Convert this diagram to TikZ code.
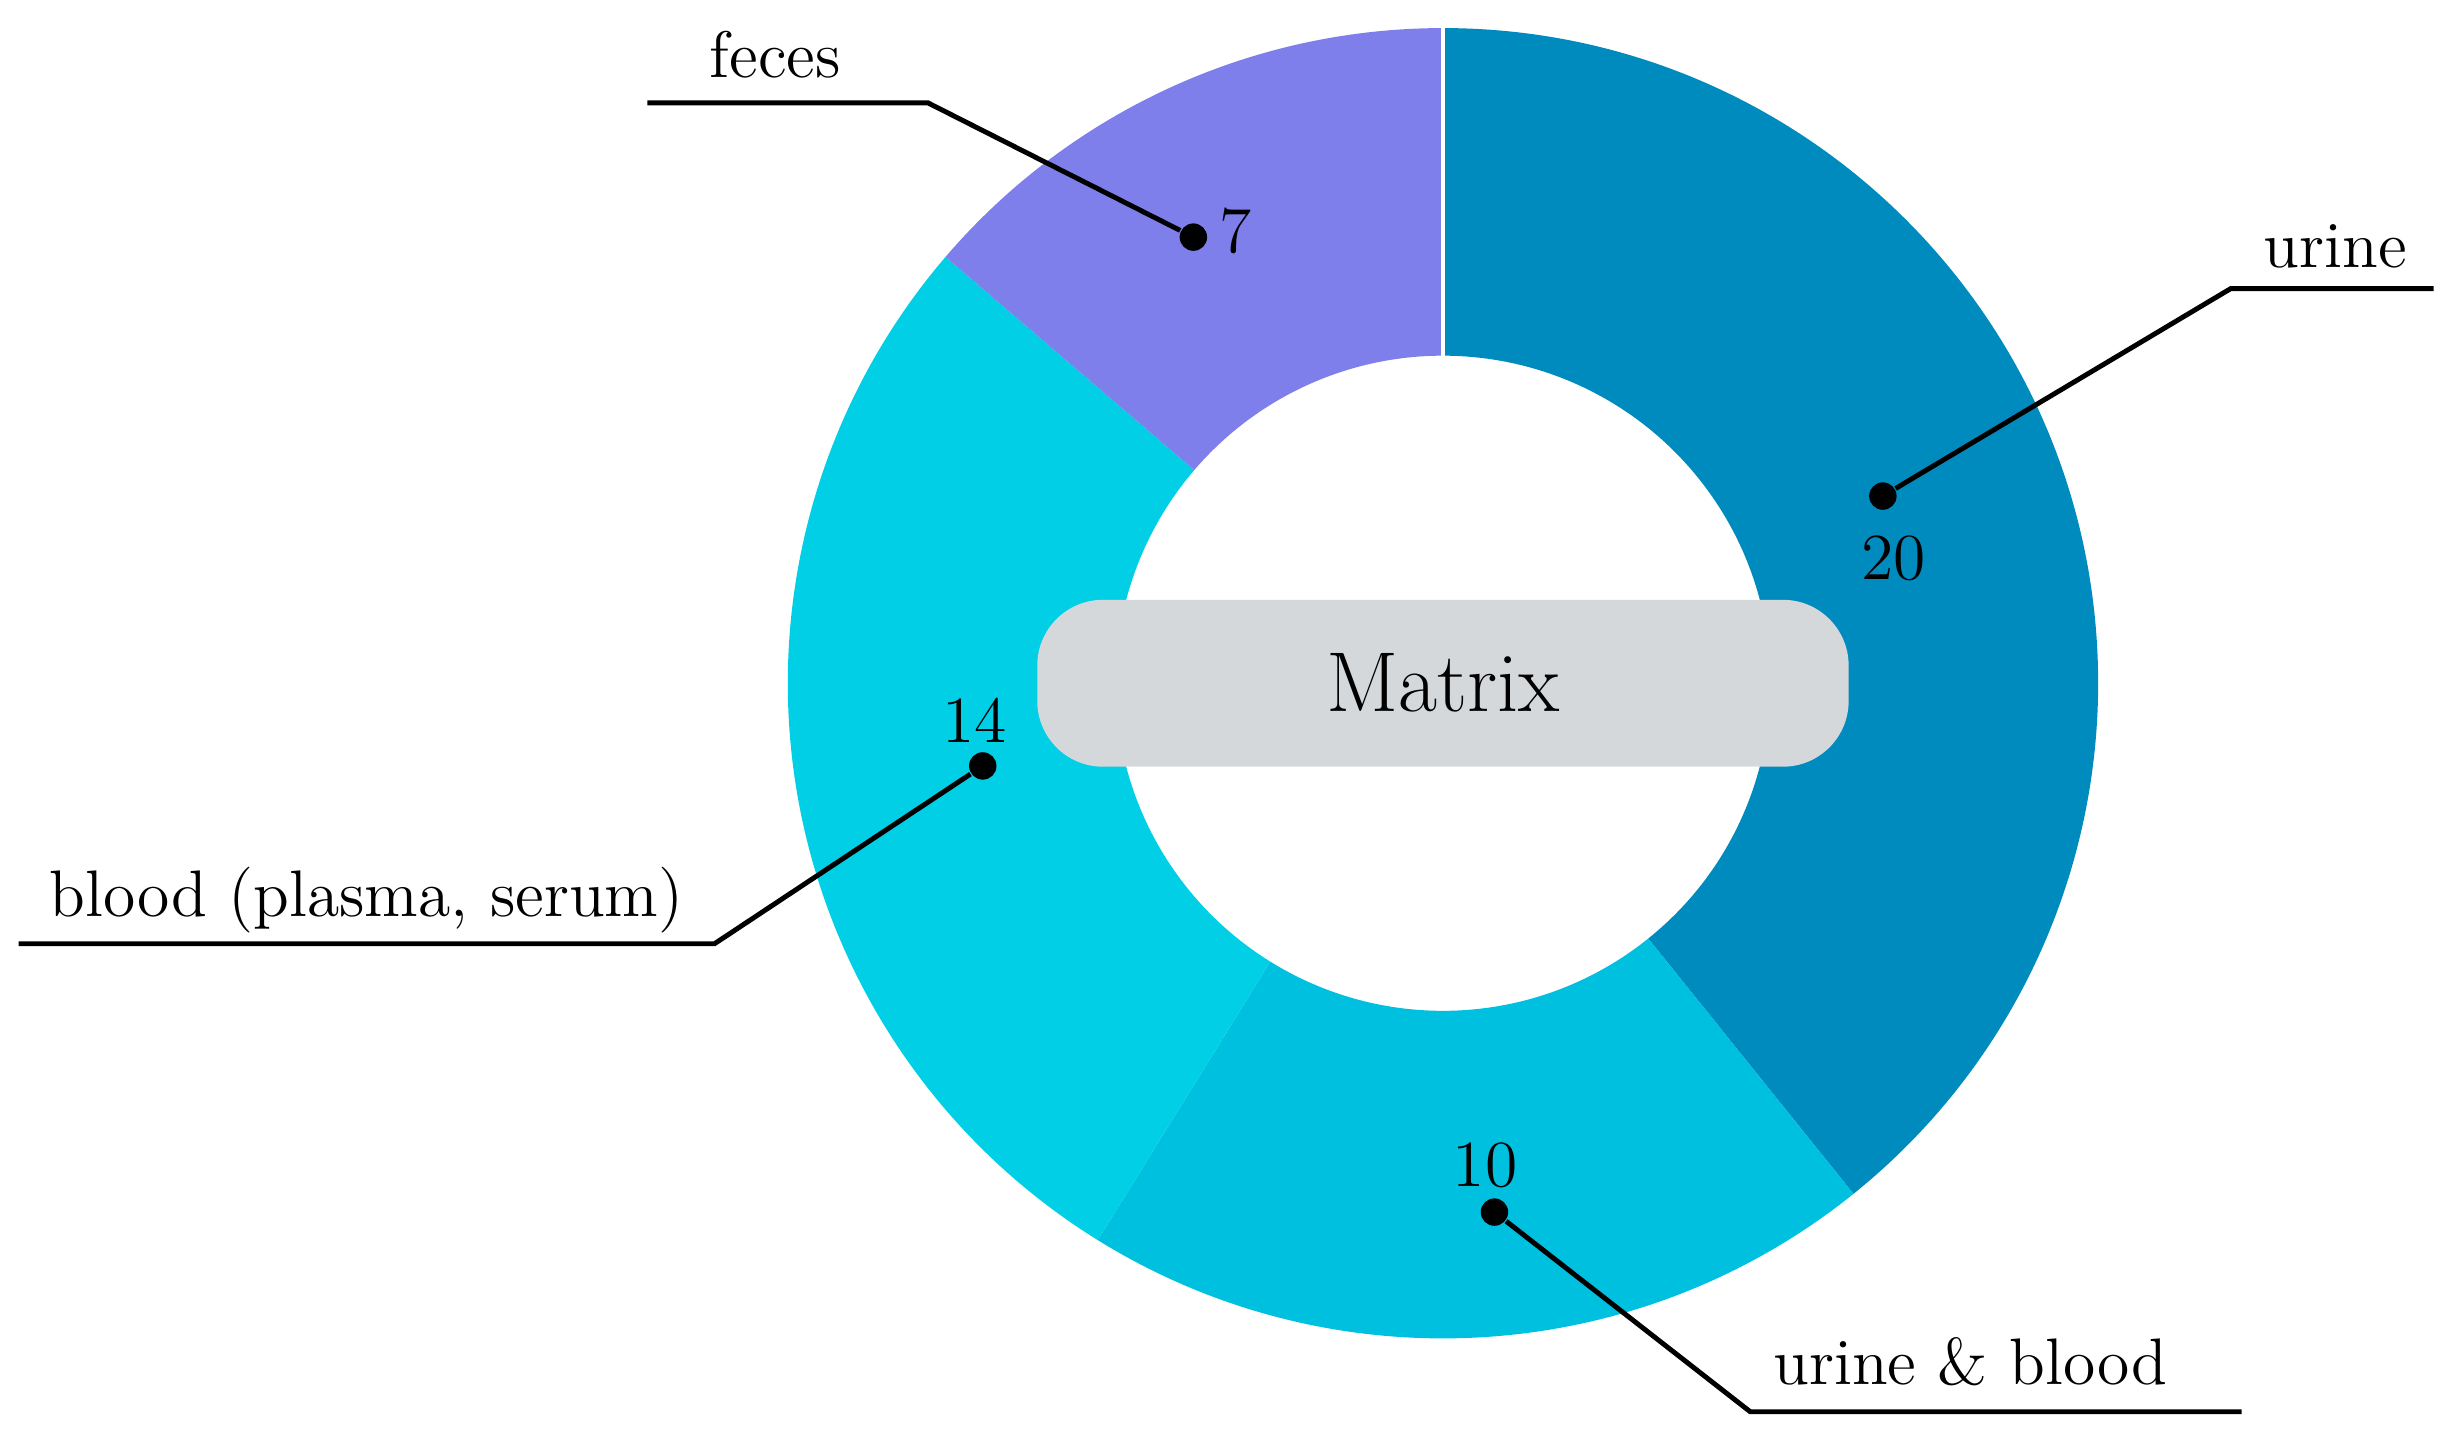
\documentclass[tikz,border=0pt]{standalone}
\begin{document}
\begin{tikzpicture}[x=0.1mm,y=0.1mm,
  lbl/.style={font=\fontsize{12}{14}\selectfont,inner sep=0pt},
  num/.style={font=\fontsize{12}{14}\selectfont,inner sep=0pt},
  lead/.style={line width=0.9pt},
  dot/.style={circle,fill=black,inner sep=0pt,minimum size=5pt}]
\definecolor{cU}{HTML}{008BBF}
\definecolor{cUB}{HTML}{00C0E0}
\definecolor{cB}{HTML}{00CFE6}
\definecolor{cF}{HTML}{7F7FEB}
\definecolor{cM}{HTML}{D5D8DB}
\useasboundingbox (0,0) rectangle (1568,922);
\coordinate (c) at (925,484);
\def\seg#1#2#3{\fill[#3] ($(c)+(#1:420)$) arc[start angle=#1,end angle=#2,radius=420] -- ($(c)+(#2:210)$) arc[start angle=#2,end angle=#1,radius=210] -- cycle;}
\fill[cU] (c) ++(90:420) arc[start angle=90,end angle=-51.2,radius=420] -- ++(128.8:210) arc[start angle=-51.2,end angle=90,radius=210] -- cycle;
\fill[cUB] (c) ++(-51.2:420) arc[start angle=-51.2,end angle=-121.8,radius=420] -- ++(58.2:210) arc[start angle=-121.8,end angle=-51.2,radius=210] -- cycle;
\fill[cB] (c) ++(-121.8:420) arc[start angle=-121.8,end angle=-220.6,radius=420] -- ++(-40.6:210) arc[start angle=-220.6,end angle=-121.8,radius=210] -- cycle;
\fill[cF] (c) ++(139.4:420) arc[start angle=139.4,end angle=90,radius=420] -- ++(-90:210) arc[start angle=90,end angle=139.4,radius=210] -- cycle;
\draw[white,line width=0.6pt] (c) ++(90:210) -- ++(90:210);
\node[fill=cM,rounded corners=12pt,minimum width=370\pgflinewidth,inner sep=0pt,minimum height=107*0.1mm,text width=37mm,align=center,font=\fontsize{15.5}{18}\selectfont] (m) at (925,484) {Matrix};
% feces
\node[lbl] (tf) at (497,887) {feces};
\coordinate (f1) at (415,856); \coordinate (f2) at (595,856);
\node[dot] (df) at (765,770) {};
\draw[lead] (f1) -- (f2) -- (df);
\node[num] (nf) at (792,774) {7};
% urine
\node[lbl] (tu) at (1497,764) {urine};
\coordinate (u1) at (1560,737); \coordinate (u2) at (1430,737);
\node[dot] (du) at (1207,604) {};
\draw[lead] (u1) -- (u2) -- (du);
\node[num] (nu) at (1214,564) {20};
% blood
\node[lbl] (tb) at (235,345) {blood (plasma, serum)};
\coordinate (b1) at (12,317); \coordinate (b2) at (458,317);
\node[dot] (db) at (630,431) {};
\draw[lead] (b1) -- (b2) -- (db);
\node[num] (nb) at (625,460) {14};
% urine & blood
\node[lbl] (tub) at (1263,49) {urine \& blood};
\coordinate (ub1) at (1437,17); \coordinate (ub2) at (1122,17);
\node[dot] (dub) at (958,145) {};
\draw[lead] (ub1) -- (ub2) -- (dub);
\node[num] (nub) at (952,175) {10};
\end{tikzpicture}
\end{document}
